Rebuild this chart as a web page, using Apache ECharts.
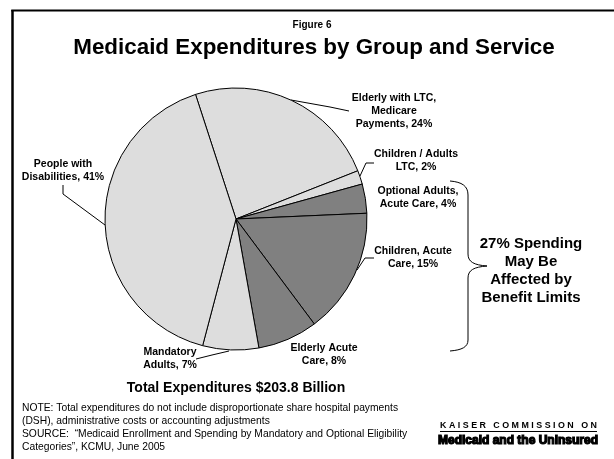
<!DOCTYPE html>
<html>
<head>
<meta charset="utf-8">
<script src="https://cdn.jsdelivr.net/npm/echarts@6/dist/echarts.min.js"></script>
<style>
html,body{margin:0;padding:0;background:#fff;}
#chart{width:614px;height:459px;}
</style>
</head>
<body>
<div id="chart"></div>
<script>
// ---- data ----
const categories = [
  'Elderly with LTC,\nMedicare\nPayments,',
  'Children / Adults\nLTC,',
  'Optional Adults,\nAcute Care,',
  'Children, Acute\nCare,',
  'Elderly Acute\nCare,',
  'Mandatory\nAdults,',
  'People with\nDisabilities,'
];
const shares = [24.0, 1.7, 3.6, 15.5, 7.4, 6.9, 40.9];       // slice sizes
const pctLabels = ['24%', '2%', '4%', '15%', '8%', '7%', '41%']; // printed percentages
const groupType = ['ltc', 'ltc', 'acute', 'acute', 'acute', 'light', 'light'];
const bracketLines = ['27% Spending', 'May Be', 'Affected by', 'Benefit Limits'];
const noteLines = [
  'NOTE: Total expenditures do not include disproportionate share hospital payments',
  '(DSH), administrative costs or accounting adjustments',
  'SOURCE:  \u201cMedicaid Enrollment and Spending by Mandatory and Optional Eligibility',
  'Categories\u201d, KCMU, June 2005'
];

// ---- layout (positions / styles) ----
const LIGHT = '#dddddd', DARK = '#808080';
const labelPos = [
  {x: 394, y: 111, line: [[291, 100], [330, 107], [349, 111]]},
  {x: 416, y: 161, line: [[360, 176], [366, 163], [374, 163]]},
  {x: 418, y: 198, line: null},
  {x: 413, y: 258, line: [[357, 270], [365, 258], [374, 258]]},
  {x: 324, y: 355, line: null},
  {x: 170, y: 359, line: [[229, 351], [212, 355], [196, 359]]},
  {x: 63, y: 171, line: [[105, 225], [63, 194], [63, 185]]}
];
const sliceColor = t => (t === 'acute' ? DARK : LIGHT);

const data = shares.map((v, i) => ({
  value: v,
  name: categories[i],
  pct: pctLabels[i],
  itemStyle: {color: sliceColor(groupType[i])},
  labelLine: {show: !!labelPos[i].line}
}));

const chart = echarts.init(document.getElementById('chart'), null, {renderer: 'canvas'});
const FONT = '"Liberation Sans", Arial, sans-serif';

function txt(x, y, text, font, align, extra) {
  return Object.assign({
    type: 'text', silent: true, x: x, y: y,
    style: Object.assign({text: text, font: font, fill: '#000', align: align, verticalAlign: 'middle', textAlign: align, textVerticalAlign: 'middle'}, extra || {})
  });
}
const braceStyle = {fill: 'none', stroke: '#000', lineWidth: 1};
function bez(x1, y1, c1x, c1y, c2x, c2y, x2, y2) {
  return {type: 'bezierCurve', silent: true, shape: {x1: x1, y1: y1, cpx1: c1x, cpy1: c1y, cpx2: c2x, cpy2: c2y, x2: x2, y2: y2}, style: braceStyle};
}
function seg(x1, y1, x2, y2, w) {
  return {type: 'line', silent: true, shape: {x1: x1, y1: y1, x2: x2, y2: y2}, style: {stroke: '#000', lineWidth: w || 1}};
}

chart.setOption({
  backgroundColor: '#ffffff',
  animation: false,
  series: [{
    type: 'pie',
    center: [236, 219],
    radius: [0, 131],
    startAngle: 108,
    clockwise: true,
    avoidLabelOverlap: false,
    silent: true,
    itemStyle: {borderColor: '#000', borderWidth: 1},
    label: {
      show: true,
      position: 'outside',
      formatter: p => p.name + ' ' + p.data.pct,
      fontFamily: FONT,
      fontWeight: 'bold',
      fontSize: 10.5,
      lineHeight: 13,
      color: '#000',
      align: 'center'
    },
    labelLine: {show: true, lineStyle: {color: '#000', width: 1}, smooth: false},
    labelLayout: function (params) {
      const p = labelPos[params.dataIndex];
      const r = {x: p.x, y: p.y, align: 'center', verticalAlign: 'middle'};
      if (p.line) r.labelLinePoints = p.line;
      return r;
    },
    data: data
  }],
  graphic: [
    // frame
    seg(12.5, 10, 12.5, 459, 2.5),
    seg(11.25, 10.5, 614, 10.5, 2),
    // headings
    txt(312, 25, 'Figure 6', 'bold 10px ' + FONT, 'center'),
    txt(314, 48, 'Medicaid Expenditures by Group and Service', 'bold 22.4px ' + FONT, 'center'),
    txt(236, 388, 'Total Expenditures $203.8 Billion', 'bold 14px ' + FONT, 'center'),
    // brace
    bez(450, 181, 462, 182, 468, 186, 468, 195),
    seg(468, 195, 468, 254),
    bez(468, 254, 468, 262, 474, 265, 487, 266),
    bez(487, 266, 474, 267, 468, 270, 468, 278),
    seg(468, 278, 468, 340),
    bez(468, 340, 468, 347, 462, 350, 450, 351),
    txt(531, 271, bracketLines.join('\n'), 'bold 15px ' + FONT, 'center', {lineHeight: 18}),
    // notes
    txt(22, 427.5, noteLines.join('\n'), '10.3px ' + FONT, 'left', {lineHeight: 13}),
    // logo
    txt(518.5, 426, 'K A I S E R   C O M M I S S I O N   O N', 'bold 8.9px ' + FONT, 'center'),
    seg(440, 431.5, 597, 431.5, 1),
    txt(518, 441, 'Medicaid and the Uninsured', 'bold 12px ' + FONT, 'center', {stroke: '#000', lineWidth: 1.2})
  ]
});
</script>
</body>
</html>
